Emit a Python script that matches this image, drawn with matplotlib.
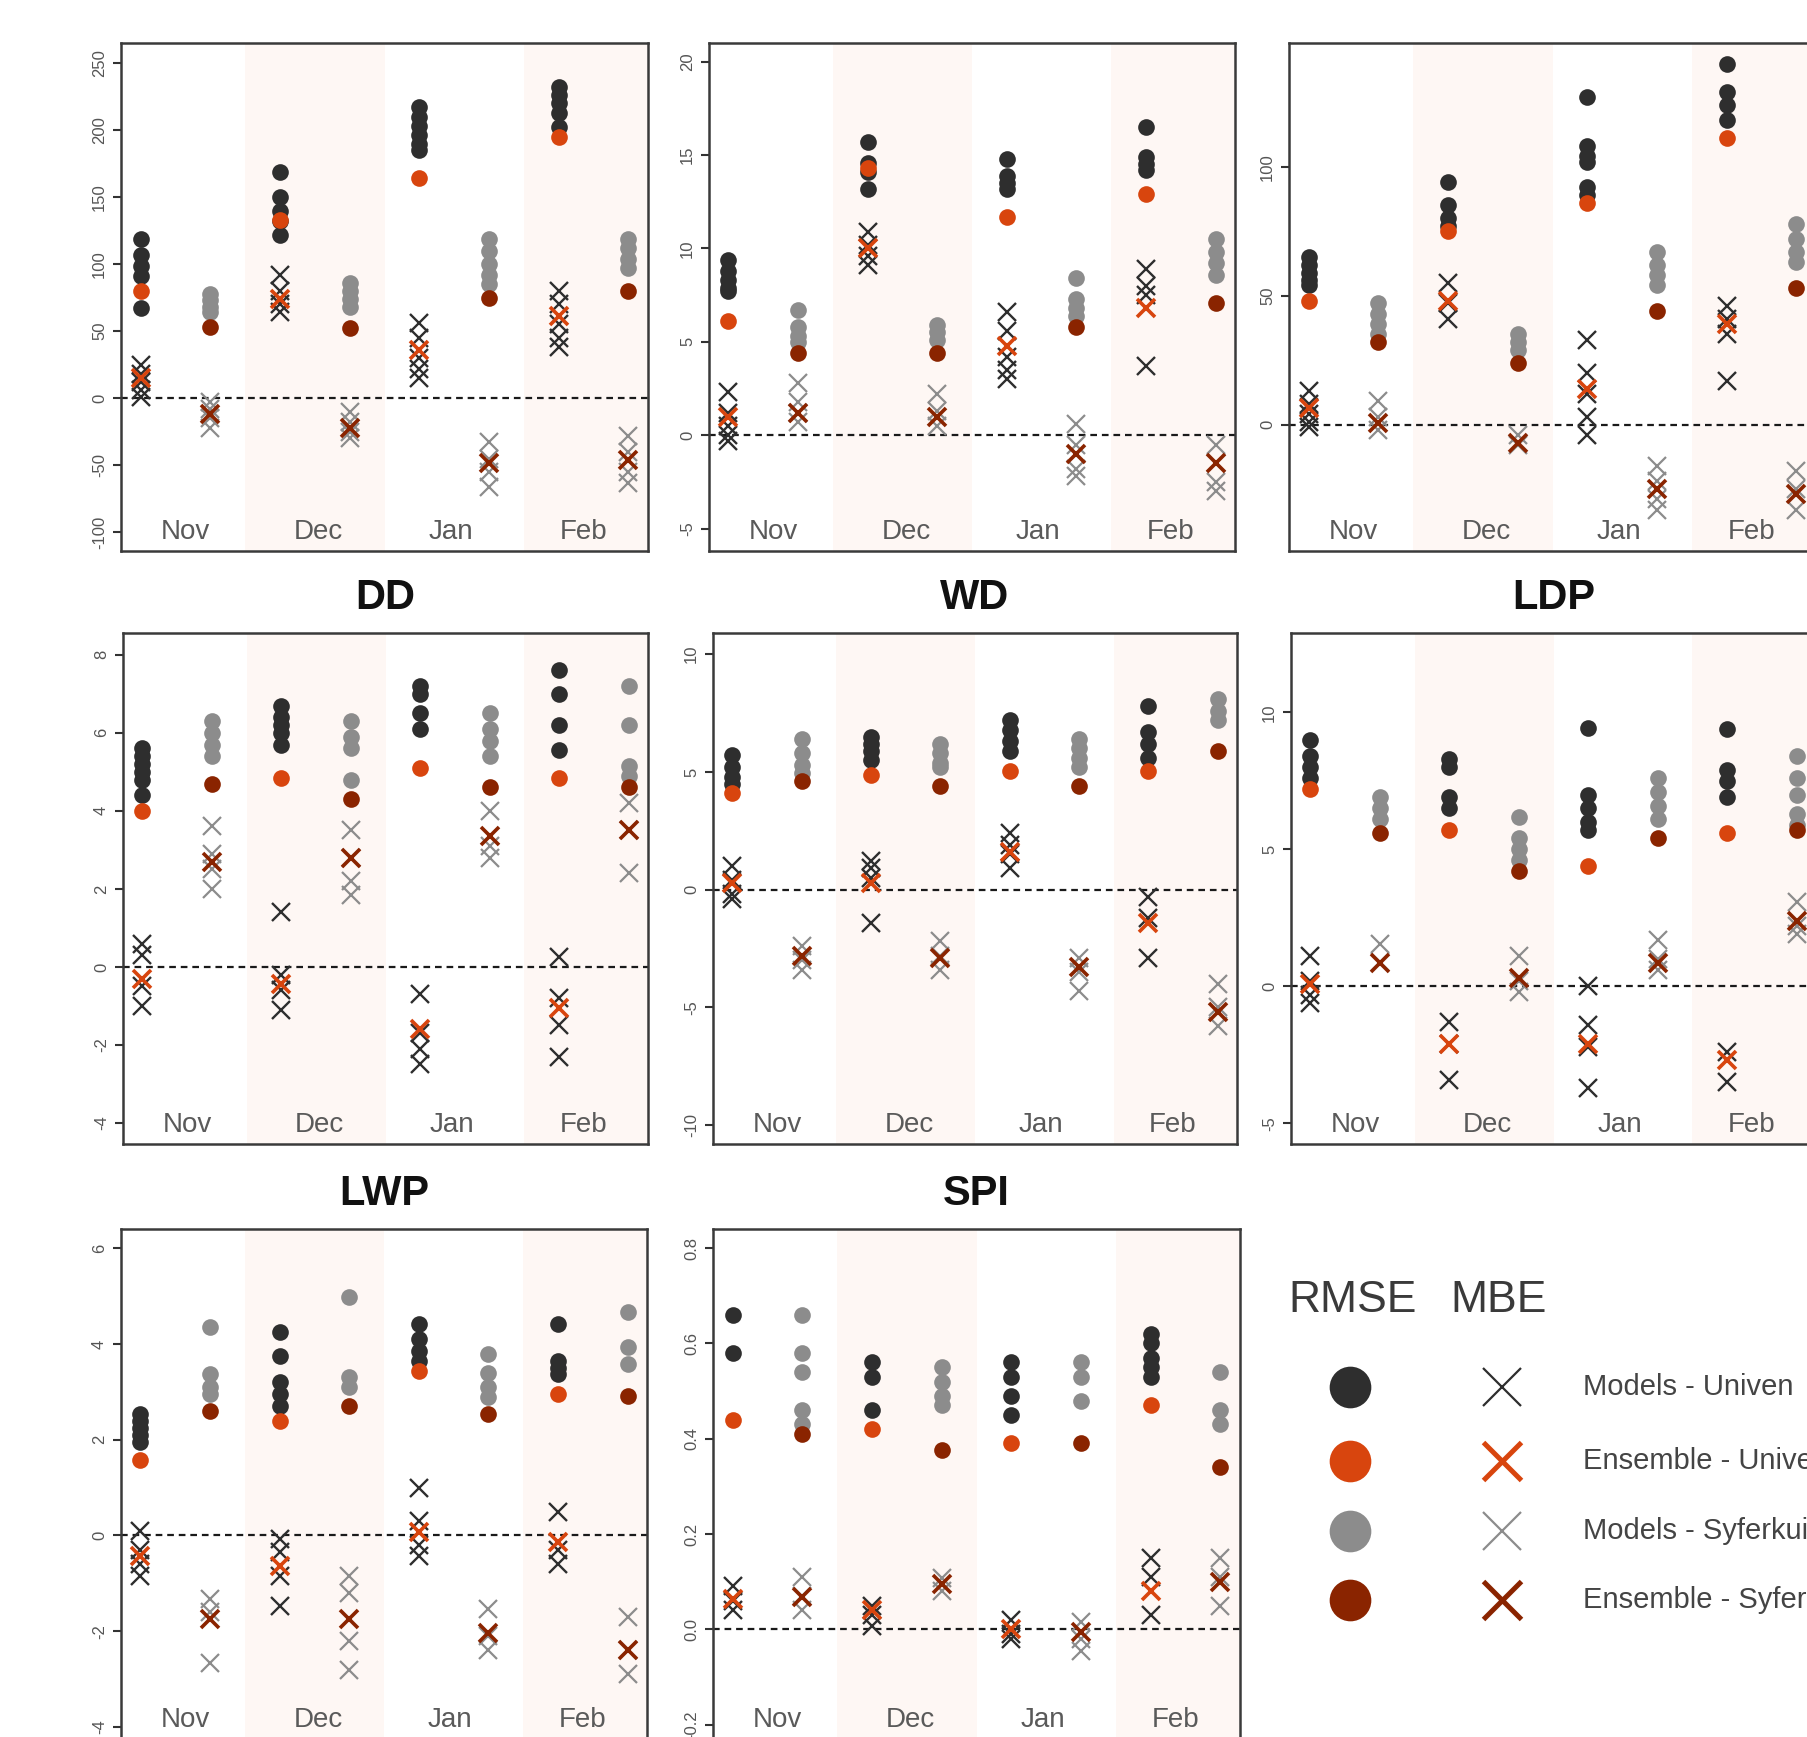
import matplotlib.pyplot as plt
from matplotlib.transforms import blended_transform_factory

plt.rcParams['font.family'] = ['Liberation Sans', 'DejaVu Sans']

# months, series and colours
months = ["Nov", "Dec", "Jan", "Feb"]
series_labels = ["Models - Univen", "Ensemble - Univen", "Models - Syferkuil", "Ensemble - Syferkuil"]
series_colors = ["#2e2e2e", "#d8450e", "#8c8c8c", "#8a2400"]

# panel 1 (top left)
a_uni_rmse_mod = [[119, 107, 99, 91, 67], [169, 150, 140, 132, 122], [217, 210, 203, 196, 190, 185], [232, 226, 220, 213, 202]]
a_uni_rmse_ens = [80, 133, 164, 195]
a_uni_mbe_mod = [[25, 18, 12, 6, 1], [92, 80, 70, 64], [56, 45, 30, 22, 15], [80, 70, 55, 45, 38]]
a_uni_mbe_ens = [15, 74, 36, 61]
a_syf_rmse_mod = [[78, 73, 68, 64], [86, 80, 74, 68], [119, 110, 100, 92, 85], [119, 112, 104, 97]]
a_syf_rmse_ens = [53, 52, 75, 80]
a_syf_mbe_mod = [[-3, -8, -15, -22], [-10, -18, -25, -30], [-33, -45, -55, -66], [-28, -40, -55, -63]]
a_syf_mbe_ens = [-12, -22, -48, -46]

# panel 2 (top middle)
b_uni_rmse_mod = [[9.4, 8.8, 8.3, 7.9, 7.7], [15.7, 14.6, 14.1, 13.2], [14.8, 13.9, 13.5, 13.2], [16.5, 14.9, 14.5, 14.2]]
b_uni_rmse_ens = [6.1, 14.3, 11.7, 12.9]
b_uni_mbe_mod = [[2.3, 1.2, 0.5, 0.0, -0.3], [10.9, 10.2, 9.6, 9.1], [6.6, 5.6, 4.2, 3.5, 3.0], [8.9, 8.0, 7.5, 3.7]]
b_uni_mbe_ens = [1.0, 10.0, 4.8, 6.8]
b_syf_rmse_mod = [[6.7, 5.8, 5.3, 5.0], [5.9, 5.5, 5.1], [8.4, 7.3, 6.8, 6.4], [10.5, 9.8, 9.2, 8.6]]
b_syf_rmse_ens = [4.4, 4.4, 5.8, 7.1]
b_syf_mbe_mod = [[2.8, 1.8, 1.2, 0.7], [2.2, 1.3, 0.5], [0.6, -0.5, -1.8, -2.2], [-0.5, -1.5, -2.5, -3.0]]
b_syf_mbe_ens = [1.2, 1.0, -1.0, -1.5]

# panel 3 (top right)
c_uni_rmse_mod = [[65, 62, 59, 56, 54], [94, 85, 80, 77], [127, 108, 104, 102, 92, 89], [140, 129, 124, 118]]
c_uni_rmse_ens = [48, 75, 86, 111]
c_uni_mbe_mod = [[13, 8, 4, 1, -1], [55, 47, 41], [33, 20, 12, 3, -4], [46, 41, 35, 17]]
c_uni_mbe_ens = [6.5, 48, 14, 39]
c_syf_rmse_mod = [[47, 43, 39, 35], [35, 32, 29], [67, 62, 58, 54], [78, 72, 67, 63]]
c_syf_rmse_ens = [32, 24, 44, 53]
c_syf_mbe_mod = [[9, 3, -2], [-4, -8], [-16, -22, -29, -33], [-18, -25, -33]]
c_syf_mbe_ens = [0.7, -7, -25, -27]

# DD
dd_uni_rmse_mod = [[5.6, 5.4, 5.2, 5.0, 4.8, 4.4], [6.7, 6.4, 6.2, 6.0, 5.7], [7.2, 7.0, 6.5, 6.1], [7.6, 7.0, 6.2, 5.55]]
dd_uni_rmse_ens = [4.0, 4.85, 5.1, 4.85]
dd_uni_mbe_mod = [[0.6, 0.3, -0.5, -1.0], [1.4, -0.2, -0.6, -1.1], [-0.7, -1.7, -2.1, -2.5], [0.26, -0.8, -1.5, -2.3]]
dd_uni_mbe_ens = [-0.3, -0.45, -1.6, -1.05]
dd_syf_rmse_mod = [[6.3, 6.0, 5.7, 5.4], [6.3, 5.9, 5.6, 4.8], [6.5, 6.1, 5.8, 5.4], [7.2, 6.2, 5.15, 4.9]]
dd_syf_rmse_ens = [4.7, 4.3, 4.6, 4.6]
dd_syf_mbe_mod = [[3.6, 2.9, 2.5, 2.0], [3.5, 2.8, 2.2, 1.85], [4.0, 3.1, 2.8], [4.2, 3.5, 2.4]]
dd_syf_mbe_ens = [2.7, 2.8, 3.35, 3.5]

# WD
wd_uni_rmse_mod = [[5.7, 5.2, 4.8, 4.5], [6.5, 6.2, 5.9, 5.5], [7.2, 6.8, 6.3, 5.9], [7.8, 6.7, 6.2, 5.6]]
wd_uni_rmse_ens = [4.1, 4.85, 5.05, 5.05]
wd_uni_mbe_mod = [[1.0, 0.4, -0.2, -0.4], [1.2, 0.9, 0.5, -1.4], [2.4, 1.9, 1.5, 0.9], [-0.3, -1.2, -2.9]]
wd_uni_mbe_ens = [0.3, 0.3, 1.6, -1.4]
wd_syf_rmse_mod = [[6.4, 5.8, 5.3, 4.95], [6.2, 5.8, 5.4, 5.2], [6.4, 6.0, 5.6, 5.2], [8.1, 7.6, 7.2]]
wd_syf_rmse_ens = [4.6, 4.4, 4.4, 5.9]
wd_syf_mbe_mod = [[-2.4, -3.0, -3.4], [-2.2, -2.8, -3.4], [-2.9, -3.5, -4.3], [-4.0, -5.0, -5.8]]
wd_syf_mbe_ens = [-2.8, -2.9, -3.3, -5.2]

# LDP
ldp_uni_rmse_mod = [[9.0, 8.4, 8.0, 7.6], [8.3, 8.0, 6.9, 6.5], [9.45, 7.0, 6.5, 6.0, 5.7], [9.4, 7.9, 7.5, 6.9]]
ldp_uni_rmse_ens = [7.2, 5.7, 4.4, 5.6]
ldp_uni_mbe_mod = [[1.1, 0.2, -0.3, -0.6], [-1.3, -2.1, -3.4], [0.0, -1.4, -2.2, -3.7], [-2.4, -3.5]]
ldp_uni_mbe_ens = [0.1, -2.1, -2.1, -2.7]
ldp_syf_rmse_mod = [[6.9, 6.5, 6.1], [6.2, 5.4, 5.0, 4.6], [7.6, 7.1, 6.6, 6.1], [8.4, 7.6, 7.0, 6.3, 5.9]]
ldp_syf_rmse_ens = [5.6, 4.2, 5.4, 5.7]
ldp_syf_mbe_mod = [[1.55, 0.9], [1.1, 0.2, -0.2], [1.7, 1.0, 0.6], [3.1, 2.2, 1.9]]
ldp_syf_mbe_ens = [0.85, 0.3, 0.85, 2.4]

# LWP
lwp_uni_rmse_mod = [[2.53, 2.4, 2.25, 2.1, 1.96], [4.25, 3.75, 3.2, 2.95, 2.7], [4.42, 4.1, 3.85, 3.65], [4.42, 3.65, 3.5, 3.37]]
lwp_uni_rmse_ens = [1.58, 2.39, 3.44, 2.95]
lwp_uni_mbe_mod = [[0.1, -0.3, -0.6, -0.85], [-0.07, -0.35, -0.85, -1.47], [1.0, 0.3, -0.2, -0.42], [0.49, -0.3, -0.6]]
lwp_uni_mbe_ens = [-0.42, -0.63, 0.07, -0.14]
lwp_syf_rmse_mod = [[4.35, 3.37, 3.1, 2.95], [4.98, 3.3, 3.1], [3.8, 3.4, 3.1, 2.9], [4.67, 3.93, 3.58]]
lwp_syf_rmse_ens = [2.6, 2.7, 2.53, 2.91]
lwp_syf_mbe_mod = [[-1.33, -1.6, -2.67], [-0.84, -1.2, -2.2, -2.8], [-1.54, -2.1, -2.4], [-1.7, -2.4, -2.9]]
lwp_syf_mbe_ens = [-1.75, -1.75, -2.03, -2.4]

# SPI
spi_uni_rmse_mod = [[0.66, 0.58], [0.56, 0.53, 0.46], [0.56, 0.53, 0.49, 0.45], [0.62, 0.6, 0.57, 0.55, 0.53]]
spi_uni_rmse_ens = [0.44, 0.42, 0.39, 0.47]
spi_uni_mbe_mod = [[0.09, 0.06, 0.04], [0.05, 0.03, 0.007], [0.02, -0.01, -0.02], [0.15, 0.11, 0.03]]
spi_uni_mbe_ens = [0.063, 0.04, 0.0, 0.08]
spi_syf_rmse_mod = [[0.66, 0.58, 0.54, 0.46, 0.43], [0.55, 0.52, 0.49, 0.47], [0.56, 0.53, 0.48], [0.54, 0.46, 0.43]]
spi_syf_rmse_ens = [0.41, 0.376, 0.39, 0.34]
spi_syf_mbe_mod = [[0.11, 0.07, 0.04], [0.107, 0.08], [0.015, -0.02, -0.046], [0.15, 0.11, 0.05]]
spi_syf_mbe_ens = [0.068, 0.095, -0.005, 0.1]

# y ticks per panel
a_ticks = [-100, -50, 0, 50, 100, 150, 200, 250]
b_ticks = [-5, 0, 5, 10, 15, 20]
c_ticks = [0, 50, 100]
dd_ticks = [-4, -2, 0, 2, 4, 6, 8]
wd_ticks = [-10, -5, 0, 5, 10]
ldp_ticks = [-5, 0, 5, 10]
lwp_ticks = [-4, -2, 0, 2, 4, 6]
spi_ticks = [-0.2, 0.0, 0.2, 0.4, 0.6, 0.8]

W, H = 1808, 1737
fig = plt.figure(figsize=(W / 100, H / 100), dpi=100)


def px_rect(x0, y0, x1, y1):
    return [x0 / W, 1 - y1 / H, (x1 - x0) / W, (y1 - y0) / H]


def draw_panel(rect, data, ticks, ylim, fmt, title=None):
    ax = fig.add_axes(rect)
    ax.set_xlim(0.72, 8.28)
    ax.set_ylim(*ylim)
    for x0 in (2.5, 6.5):
        ax.axvspan(x0, x0 + 2, color="#fef7f4", lw=0, zorder=0)
    ax.axhline(0, color="#1a1a1a", lw=1.6, ls=(0, (3, 2.2)), zorder=1)

    (u_rm, u_re, u_mm, u_me, s_rm, s_re, s_mm, s_me) = data
    for i in range(len(months)):
        xu = 2 * i + 1
        xs = 2 * i + 2
        # Univen column
        ax.plot([xu] * len(u_rm[i]), u_rm[i], "o", ms=12, color=series_colors[0], mec="none", zorder=3)
        ax.plot([xu] * len(u_mm[i]), u_mm[i], "x", ms=13, mew=1.7, color=series_colors[0], zorder=3)
        ax.plot([xu], [u_re[i]], "o", ms=12, color=series_colors[1], mec="none", zorder=4)
        ax.plot([xu], [u_me[i]], "x", ms=13, mew=2.6, color=series_colors[1], zorder=4)
        # Syferkuil column
        ax.plot([xs] * len(s_rm[i]), s_rm[i], "o", ms=12, color=series_colors[2], mec="none", zorder=3)
        ax.plot([xs] * len(s_mm[i]), s_mm[i], "x", ms=13, mew=1.6, color=series_colors[2], zorder=3)
        ax.plot([xs], [s_re[i]], "o", ms=12, color=series_colors[3], mec="none", zorder=4)
        ax.plot([xs], [s_me[i]], "x", ms=13, mew=2.6, color=series_colors[3], zorder=4)

    trans = blended_transform_factory(ax.transData, ax.transAxes)
    for xm, m in zip((1.65, 3.55, 5.45, 7.35), months):
        ax.text(xm, 0.038, m, transform=trans, ha="center", va="center",
                fontsize=20, color="#5a5a5a", zorder=5)

    ax.set_xticks([])
    ax.set_yticks(ticks)
    ax.set_yticklabels([fmt.format(t) for t in ticks], rotation=90, va="center")
    ax.tick_params(axis="y", direction="out", length=6, width=1.5, color="#333333",
                   labelcolor="#555555", labelsize=12, pad=4)
    for sp in ax.spines.values():
        sp.set_linewidth(1.8)
        sp.set_color("#3a3a3a")
    if title:
        ax.text(0.5, 1 + 35 / 508, title, transform=ax.transAxes, ha="center", va="center",
                fontsize=30, fontweight="bold", color="#111111")
    return ax


# row 1
draw_panel(px_rect(121, 43, 648, 551),
           (a_uni_rmse_mod, a_uni_rmse_ens, a_uni_mbe_mod, a_uni_mbe_ens,
            a_syf_rmse_mod, a_syf_rmse_ens, a_syf_mbe_mod, a_syf_mbe_ens),
           a_ticks, (-114, 265), "{:g}")
draw_panel(px_rect(709, 43, 1235, 551),
           (b_uni_rmse_mod, b_uni_rmse_ens, b_uni_mbe_mod, b_uni_mbe_ens,
            b_syf_rmse_mod, b_syf_rmse_ens, b_syf_mbe_mod, b_syf_mbe_ens),
           b_ticks, (-6.2, 21.0), "{:g}")
draw_panel(px_rect(1289, 43, 1816, 551),
           (c_uni_rmse_mod, c_uni_rmse_ens, c_uni_mbe_mod, c_uni_mbe_ens,
            c_syf_rmse_mod, c_syf_rmse_ens, c_syf_mbe_mod, c_syf_mbe_ens),
           c_ticks, (-49, 148), "{:g}")

# row 2
draw_panel(px_rect(123, 633, 648, 1144),
           (dd_uni_rmse_mod, dd_uni_rmse_ens, dd_uni_mbe_mod, dd_uni_mbe_ens,
            dd_syf_rmse_mod, dd_syf_rmse_ens, dd_syf_mbe_mod, dd_syf_mbe_ens),
           dd_ticks, (-4.54, 8.56), "{:g}", "DD")
draw_panel(px_rect(713, 633, 1237, 1144),
           (wd_uni_rmse_mod, wd_uni_rmse_ens, wd_uni_mbe_mod, wd_uni_mbe_ens,
            wd_syf_rmse_mod, wd_syf_rmse_ens, wd_syf_mbe_mod, wd_syf_mbe_ens),
           wd_ticks, (-10.8, 10.9), "{:g}", "WD")
draw_panel(px_rect(1291, 633, 1816, 1144),
           (ldp_uni_rmse_mod, ldp_uni_rmse_ens, ldp_uni_mbe_mod, ldp_uni_mbe_ens,
            ldp_syf_rmse_mod, ldp_syf_rmse_ens, ldp_syf_mbe_mod, ldp_syf_mbe_ens),
           ldp_ticks, (-5.75, 12.9), "{:g}", "LDP")

# row 3
draw_panel(px_rect(121, 1229, 647, 1739),
           (lwp_uni_rmse_mod, lwp_uni_rmse_ens, lwp_uni_mbe_mod, lwp_uni_mbe_ens,
            lwp_syf_rmse_mod, lwp_syf_rmse_ens, lwp_syf_mbe_mod, lwp_syf_mbe_ens),
           lwp_ticks, (-4.25, 6.4), "{:g}", "LWP")
draw_panel(px_rect(713, 1229, 1240, 1739),
           (spi_uni_rmse_mod, spi_uni_rmse_ens, spi_uni_mbe_mod, spi_uni_mbe_ens,
            spi_syf_rmse_mod, spi_syf_rmse_ens, spi_syf_mbe_mod, spi_syf_mbe_ens),
           spi_ticks, (-0.23, 0.84), "{:.1f}", "SPI")

# legend, drawn in pixel space (the source figure is cropped at the right edge)
lax = fig.add_axes([0, 0, 1, 1])
lax.set_xlim(0, W)
lax.set_ylim(H, 0)
lax.axis("off")
lax.text(1288, 1301, "RMSE", fontsize=32, color="#3a3a3a", ha="left", va="center")
lax.text(1450, 1301, "MBE", fontsize=32, color="#3a3a3a", ha="left", va="center")
row_y = [1387, 1461, 1531, 1600]
x_widths = [1.6, 3.6, 1.6, 3.6]
for yy, lab, col, xw in zip(row_y, series_labels, series_colors, x_widths):
    lax.plot([1350], [yy], "o", ms=30, color=col, mec="none")
    lax.plot([1502], [yy], "x", ms=27, mew=xw, color=col)
    lax.text(1583, yy, lab, fontsize=21, color="#444444", ha="left", va="center")

fig.savefig("out.png", dpi=100)
